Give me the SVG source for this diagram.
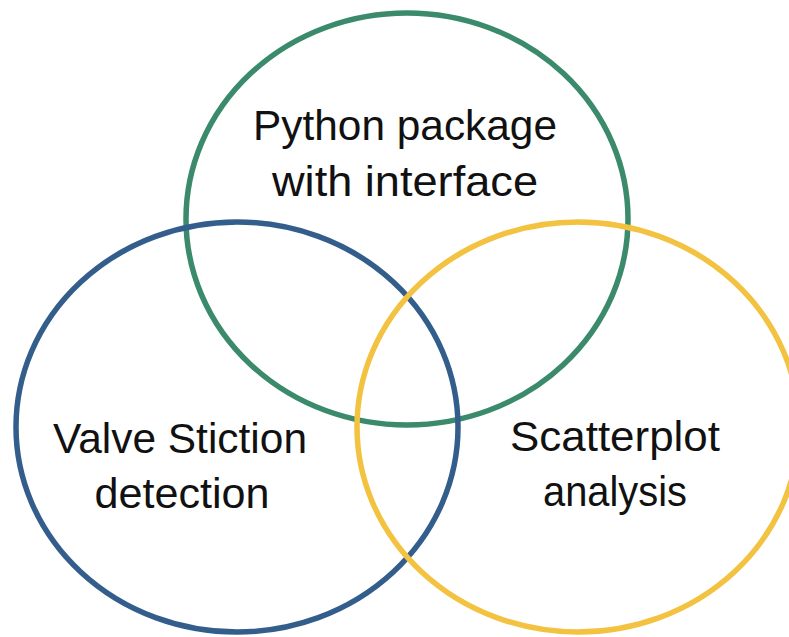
<svg xmlns="http://www.w3.org/2000/svg" width="789" height="637" viewBox="0 0 789 637">
  <style>
    .ring { fill: none; stroke-width: 5.5; }
    .label { font-family: "Liberation Sans", Arial, sans-serif; font-size: 42px; fill: #111; text-anchor: middle; }
  </style>
  <rect width="789" height="637" fill="#ffffff"/>
  <g id="python-package">
    <ellipse class="ring" cx="407" cy="219" rx="221" ry="206" stroke="#3A8A6B"/>
    <text class="label" x="405" y="140" textLength="304" lengthAdjust="spacingAndGlyphs">Python package</text>
    <text class="label" x="405" y="196" textLength="266" lengthAdjust="spacingAndGlyphs">with interface</text>
  </g>
  <g id="valve-stiction">
    <ellipse class="ring" cx="237" cy="427" rx="221" ry="205" stroke="#335E8C"/>
    <text class="label" x="180" y="453" textLength="254" lengthAdjust="spacingAndGlyphs">Valve Stiction</text>
    <text class="label" x="182" y="508" textLength="175" lengthAdjust="spacingAndGlyphs">detection</text>
  </g>
  <g id="scatterplot">
    <ellipse class="ring" cx="578" cy="427" rx="221" ry="205" stroke="#F2C240"/>
    <text class="label" x="615" y="451" textLength="210" lengthAdjust="spacingAndGlyphs">Scatterplot</text>
    <text class="label" x="615" y="506" textLength="144" lengthAdjust="spacingAndGlyphs">analysis</text>
  </g>
  <g id="connectors"/>
</svg>
